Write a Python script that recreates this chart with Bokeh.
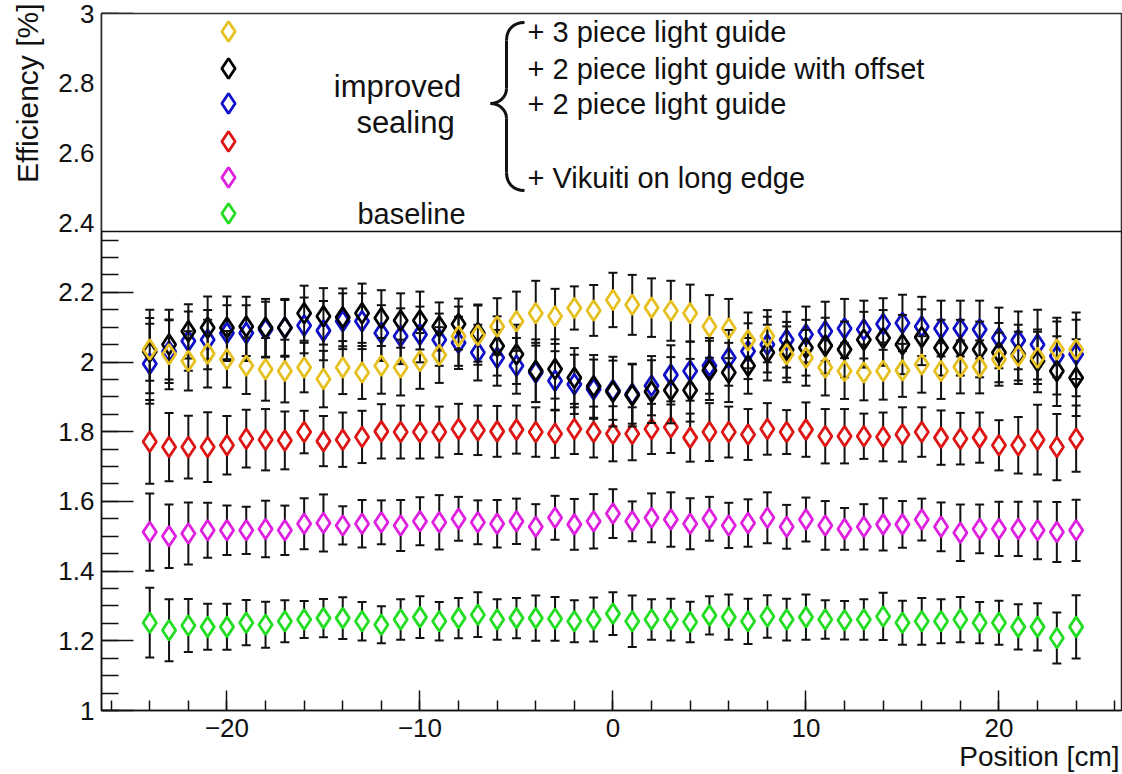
import math
from bokeh.plotting import figure
from bokeh.models import FixedTicker, BoxAnnotation, Label, Title
from bokeh.embed import file_html
from bokeh.resources import INLINE

# ---------------- data ----------------
position = list(range(-24, 25))

eff_3piece = [2.036, 2.022, 2.003, 2.024, 2.008, 1.989, 1.979, 1.974, 1.984, 1.951, 1.984, 1.970,
              1.989, 1.984, 2.003, 2.020, 2.074, 2.077, 2.102, 2.117, 2.140, 2.131, 2.155, 2.148,
              2.178, 2.164, 2.156, 2.147, 2.140, 2.102, 2.096, 2.062, 2.074, 2.022, 2.012, 1.984,
              1.974, 1.970, 1.974, 1.976, 1.993, 1.974, 1.986, 1.986, 2.008, 2.017, 2.012, 2.036, 2.036]
err_3piece = [0.090, 0.100, 0.085, 0.097, 0.081, 0.081, 0.090, 0.090, 0.071, 0.081, 0.076, 0.076,
              0.080, 0.080, 0.080, 0.080, 0.085, 0.085, 0.081, 0.085, 0.093, 0.079, 0.062, 0.073,
              0.078, 0.086, 0.084, 0.086, 0.082, 0.090, 0.085, 0.080, 0.075, 0.080, 0.080, 0.080,
              0.080, 0.080, 0.082, 0.076, 0.081, 0.080, 0.076, 0.076, 0.076, 0.070, 0.075, 0.080, 0.085]

eff_2piece_offset = [2.030, 2.050, 2.088, 2.098, 2.098, 2.102, 2.098, 2.098, 2.140, 2.131, 2.128, 2.140,
                     2.126, 2.119, 2.119, 2.102, 2.109, 2.083, 2.046, 2.022, 1.975, 1.980, 1.955, 1.930,
                     1.915, 1.905, 1.915, 1.919, 1.919, 1.976, 1.970, 1.989, 2.027, 2.035, 2.041, 2.047,
                     2.036, 2.064, 2.069, 2.050, 2.071, 2.041, 2.041, 2.036, 2.027, 2.022, 2.003, 1.974, 1.955]
err_2piece_offset = [0.120, 0.100, 0.078, 0.090, 0.090, 0.085, 0.083, 0.083, 0.079, 0.081, 0.083, 0.085,
                     0.080, 0.078, 0.083, 0.069, 0.073, 0.082, 0.085, 0.085, 0.090, 0.085, 0.085, 0.090,
                     0.100, 0.090, 0.090, 0.095, 0.090, 0.085, 0.085, 0.080, 0.080, 0.080, 0.080, 0.080,
                     0.080, 0.080, 0.080, 0.085, 0.080, 0.080, 0.080, 0.080, 0.085, 0.085, 0.090, 0.100, 0.110]

eff_2piece = [1.995, 2.030, 2.060, 2.064, 2.083, 2.083, 2.093, 2.098, 2.105, 2.090, 2.117, 2.117,
              2.083, 2.074, 2.079, 2.064, 2.055, 2.027, 2.012, 1.989, 1.970, 1.946, 1.936, 1.922,
              1.919, 1.908, 1.932, 1.963, 1.974, 1.989, 2.012, 2.031, 2.050, 2.064, 2.079, 2.088,
              2.096, 2.093, 2.109, 2.112, 2.102, 2.096, 2.096, 2.093, 2.069, 2.062, 2.050, 2.017, 2.022]
err_2piece = [0.115, 0.090, 0.085, 0.085, 0.080, 0.080, 0.080, 0.080, 0.080, 0.085, 0.080, 0.080,
              0.080, 0.080, 0.080, 0.075, 0.075, 0.080, 0.080, 0.080, 0.085, 0.085, 0.085, 0.085,
              0.085, 0.085, 0.085, 0.085, 0.085, 0.080, 0.080, 0.080, 0.080, 0.080, 0.080, 0.085,
              0.085, 0.083, 0.074, 0.081, 0.085, 0.080, 0.080, 0.083, 0.087, 0.083, 0.100, 0.110, 0.120]

eff_sealing = [1.771, 1.756, 1.756, 1.756, 1.761, 1.780, 1.777, 1.775, 1.799, 1.773, 1.777, 1.785,
               1.801, 1.799, 1.799, 1.799, 1.808, 1.804, 1.801, 1.806, 1.799, 1.794, 1.808, 1.799,
               1.794, 1.794, 1.808, 1.813, 1.783, 1.799, 1.799, 1.792, 1.808, 1.799, 1.806, 1.787,
               1.787, 1.787, 1.785, 1.792, 1.799, 1.783, 1.780, 1.783, 1.761, 1.761, 1.777, 1.756, 1.780]
err_sealing = [0.120, 0.098, 0.090, 0.100, 0.084, 0.083, 0.088, 0.083, 0.061, 0.072, 0.078, 0.075,
               0.078, 0.076, 0.076, 0.073, 0.072, 0.071, 0.073, 0.069, 0.071, 0.069, 0.072, 0.073,
               0.079, 0.076, 0.072, 0.074, 0.069, 0.083, 0.073, 0.073, 0.074, 0.063, 0.078, 0.078,
               0.078, 0.065, 0.070, 0.078, 0.071, 0.078, 0.074, 0.072, 0.072, 0.081, 0.100, 0.095, 0.095]

eff_vikuiti = [1.512, 1.500, 1.508, 1.517, 1.517, 1.517, 1.521, 1.517, 1.536, 1.538, 1.531, 1.536,
               1.540, 1.531, 1.543, 1.540, 1.550, 1.540, 1.536, 1.543, 1.527, 1.553, 1.534, 1.543,
               1.565, 1.543, 1.553, 1.548, 1.536, 1.550, 1.531, 1.538, 1.553, 1.527, 1.548, 1.531,
               1.521, 1.527, 1.534, 1.534, 1.548, 1.527, 1.510, 1.521, 1.521, 1.521, 1.517, 1.512, 1.517]
err_vikuiti = [0.111, 0.091, 0.089, 0.079, 0.071, 0.068, 0.081, 0.071, 0.073, 0.082, 0.055, 0.068,
               0.063, 0.073, 0.069, 0.078, 0.063, 0.063, 0.068, 0.065, 0.065, 0.063, 0.073, 0.078,
               0.070, 0.057, 0.070, 0.078, 0.073, 0.063, 0.065, 0.068, 0.073, 0.063, 0.063, 0.070,
               0.060, 0.065, 0.075, 0.067, 0.060, 0.070, 0.081, 0.070, 0.078, 0.078, 0.083, 0.086, 0.088]

eff_baseline = [1.252, 1.230, 1.244, 1.240, 1.240, 1.252, 1.246, 1.256, 1.261, 1.265, 1.265, 1.256,
                1.246, 1.261, 1.268, 1.256, 1.265, 1.275, 1.261, 1.265, 1.265, 1.263, 1.256, 1.261,
                1.278, 1.256, 1.261, 1.261, 1.254, 1.273, 1.268, 1.256, 1.270, 1.261, 1.268, 1.261,
                1.259, 1.261, 1.270, 1.252, 1.256, 1.256, 1.261, 1.252, 1.252, 1.240, 1.240, 1.208, 1.240]
err_baseline = [0.100, 0.089, 0.076, 0.066, 0.066, 0.065, 0.066, 0.060, 0.053, 0.055, 0.060, 0.055,
                0.053, 0.058, 0.060, 0.055, 0.058, 0.064, 0.058, 0.058, 0.065, 0.063, 0.060, 0.063,
                0.061, 0.074, 0.058, 0.060, 0.058, 0.055, 0.065, 0.065, 0.061, 0.060, 0.065, 0.055,
                0.055, 0.058, 0.068, 0.063, 0.067, 0.063, 0.065, 0.059, 0.063, 0.065, 0.068, 0.073, 0.091]

series_names = ["baseline", "vikuiti", "sealing", "2piece", "2piece_offset", "3piece"]
series_colors = ["#22dd22", "#e020e0", "#dd1515", "#1010c8", "#000000", "#e6c020"]
series_values = [eff_baseline, eff_vikuiti, eff_sealing, eff_2piece, eff_2piece_offset, eff_3piece]
series_errors = [err_baseline, err_vikuiti, err_sealing, err_2piece, err_2piece_offset, err_3piece]

legend_texts = ["+ 3 piece light guide", "+ 2 piece light guide with offset",
                "+ 2 piece light guide", "", "+ Vikuiti on long edge", ""]

x_title = "Position [cm]"
y_title = "Efficiency [%]"
x_ticks = [-20, -10, 0, 10, 20]
x_tick_labels = ["\u221220", "\u221210", "0", "10", "20"]
x_minor_ticks = list(range(-26, 27, 2))
y_ticks = [1.0, 1.2, 1.4, 1.6, 1.8, 2.0, 2.2, 2.4, 2.6, 2.8, 3.0]
y_tick_labels = ["1", "1.2", "1.4", "1.6", "1.8", "2", "2.2", "2.4", "2.6", "2.8", "3"]
y_minor_ticks = [round(1 + 0.05 * i, 2) for i in range(41)]

# ---------------- layout ----------------
W, H = 1122, 774
FL, FR, FT, FB = 101, 1121, 13, 710
XMIN, XMAX = -26.5, 26.35
YMIN, YMAX = 1.0, 3.0
FONT = "Liberation Sans"


def dx(px):
    return XMIN + (px - FL) * (XMAX - XMIN) / (FR - FL)


def dy(py):
    return YMIN + (FB - py) * (YMAX - YMIN) / (FB - FT)


p = figure(width=W, height=H, frame_width=FR - FL, frame_height=FB - FT,
           x_range=(XMIN, XMAX), y_range=(YMIN, YMAX),
           output_backend="svg", toolbar_location=None,
           min_border_left=FL, min_border_right=W - FR, min_border_top=FT, min_border_bottom=H - FB)
p.background_fill_color = "white"
p.border_fill_color = "white"
p.grid.visible = False
p.outline_line_color = "#222222"
p.outline_line_width = 1.5

for ax in (p.xaxis[0], p.yaxis[0]):
    ax.axis_line_color = "#111111"
    ax.axis_line_width = 1.5
    ax.major_tick_line_color = "#111111"
    ax.minor_tick_line_color = "#111111"
    ax.major_tick_line_width = 1.5
    ax.minor_tick_line_width = 1.5
    ax.major_tick_out = 0
    ax.minor_tick_out = 0
    ax.major_label_text_font = FONT
    ax.major_label_text_font_size = "26px"
    ax.major_label_text_color = "#111111"

xa = p.xaxis[0]
xa.ticker = FixedTicker(ticks=x_ticks, minor_ticks=x_minor_ticks)
xa.major_label_overrides = dict(zip(x_ticks, x_tick_labels))
xa.major_tick_in = 20
xa.minor_tick_in = 10
xa.major_label_standoff = 8

ya = p.yaxis[0]
ya.ticker = FixedTicker(ticks=y_ticks, minor_ticks=y_minor_ticks)
ya.major_label_overrides = dict(zip(y_ticks, y_tick_labels))
ya.major_tick_in = 32
ya.minor_tick_in = 17
ya.major_label_standoff = 7

# axis titles, aligned to the axis ends as in the original
p.add_layout(Title(text=x_title, align="right", vertical_align="middle", offset=2, standoff=0,
                   text_font=FONT, text_font_size="28px", text_font_style="normal",
                   text_color="#111111"), "below")
p.add_layout(Title(text=y_title, align="right", vertical_align="top", offset=-10, standoff=20,
                   text_font=FONT, text_font_size="30px", text_font_style="normal",
                   text_color="#111111"), "left")

# ---------------- data marks ----------------
MARKER_PX = 20
gap = (MARKER_PX / 2) * (YMAX - YMIN) / (FB - FT)

for vals, errs, color in zip(series_values, series_errors, series_colors):
    up0 = [v + gap for v in vals]
    up1 = [v + e for v, e in zip(vals, errs)]
    lo0 = [v - gap for v in vals]
    lo1 = [v - e for v, e in zip(vals, errs)]
    p.segment(x0=position, y0=up0, x1=position, y1=up1, line_color="#111111", line_width=2)
    p.segment(x0=position, y0=lo0, x1=position, y1=lo1, line_color="#111111", line_width=2)
    p.scatter(x=position, y=up1, marker="dash", size=9, line_color="#111111", line_width=2)
    p.scatter(x=position, y=lo1, marker="dash", size=9, line_color="#111111", line_width=2)
    p.scatter(x=position, y=vals, marker="diamond", size=MARKER_PX, line_color=color,
              line_width=2.8, fill_alpha=0)

# ---------------- legend box ----------------
box = BoxAnnotation(bottom=dy(231), fill_color="white", fill_alpha=1.0,
                    line_color="#111111", line_alpha=1.0, line_width=1.5, level="annotation")
p.add_layout(box)

legend_rows_px = [31, 68, 103, 141, 177, 213]
leg_x = dx(228)
for row_py, color, txt in zip(legend_rows_px, list(reversed(series_colors)), legend_texts):
    p.scatter(x=[leg_x], y=[dy(row_py)], marker="diamond", size=MARKER_PX, line_color=color,
              line_width=2.8, fill_alpha=0, level="overlay")
    if txt:
        p.add_layout(Label(x=dx(527), y=dy(row_py), text=txt, text_align="left",
                           text_baseline="middle", text_font=FONT, text_font_size="29px",
                           text_color="#111111", level="overlay"))

p.add_layout(Label(x=dx(397), y=dy(86), text="improved", text_align="center",
                   text_baseline="middle", text_font=FONT, text_font_size="31px",
                   text_color="#111111", level="overlay"))
p.add_layout(Label(x=dx(405), y=dy(122), text="sealing", text_align="center",
                   text_baseline="middle", text_font=FONT, text_font_size="31px",
                   text_color="#111111", level="overlay"))
p.add_layout(Label(x=dx(411), y=dy(213), text="baseline", text_align="center",
                   text_baseline="middle", text_font=FONT, text_font_size="29px",
                   text_color="#111111", level="overlay"))

# curly brace
bx_tip, bx_mid, bx_pt = 524, 506, 490
by_top, by_mid, by_bot = 22, 103, 190
bez = dict(
    x0=[dx(bx_tip), dx(bx_mid), dx(bx_pt), dx(bx_mid)],
    y0=[dy(by_top), dy(by_mid - 15), dy(by_mid), dy(by_bot - 18)],
    x1=[dx(bx_mid), dx(bx_pt), dx(bx_mid), dx(bx_tip)],
    y1=[dy(by_top + 18), dy(by_mid), dy(by_mid + 15), dy(by_bot)],
    cx0=[dx(512), dx(bx_mid), dx(498), dx(bx_mid)],
    cy0=[dy(by_top), dy(by_mid - 6), dy(by_mid), dy(by_bot - 8)],
    cx1=[dx(bx_mid), dx(498), dx(bx_mid), dx(512)],
    cy1=[dy(by_top + 8), dy(by_mid), dy(by_mid + 6), dy(by_bot)],
)
p.bezier(line_color="#111111", line_width=3, level="overlay", **bez)
p.segment(x0=[dx(bx_mid), dx(bx_mid)], y0=[dy(by_top + 18), dy(by_mid + 15)],
          x1=[dx(bx_mid), dx(bx_mid)], y1=[dy(by_mid - 15), dy(by_bot - 18)],
          line_color="#111111", line_width=3, level="overlay")

open("out.html", "w").write(file_html(p, INLINE))
